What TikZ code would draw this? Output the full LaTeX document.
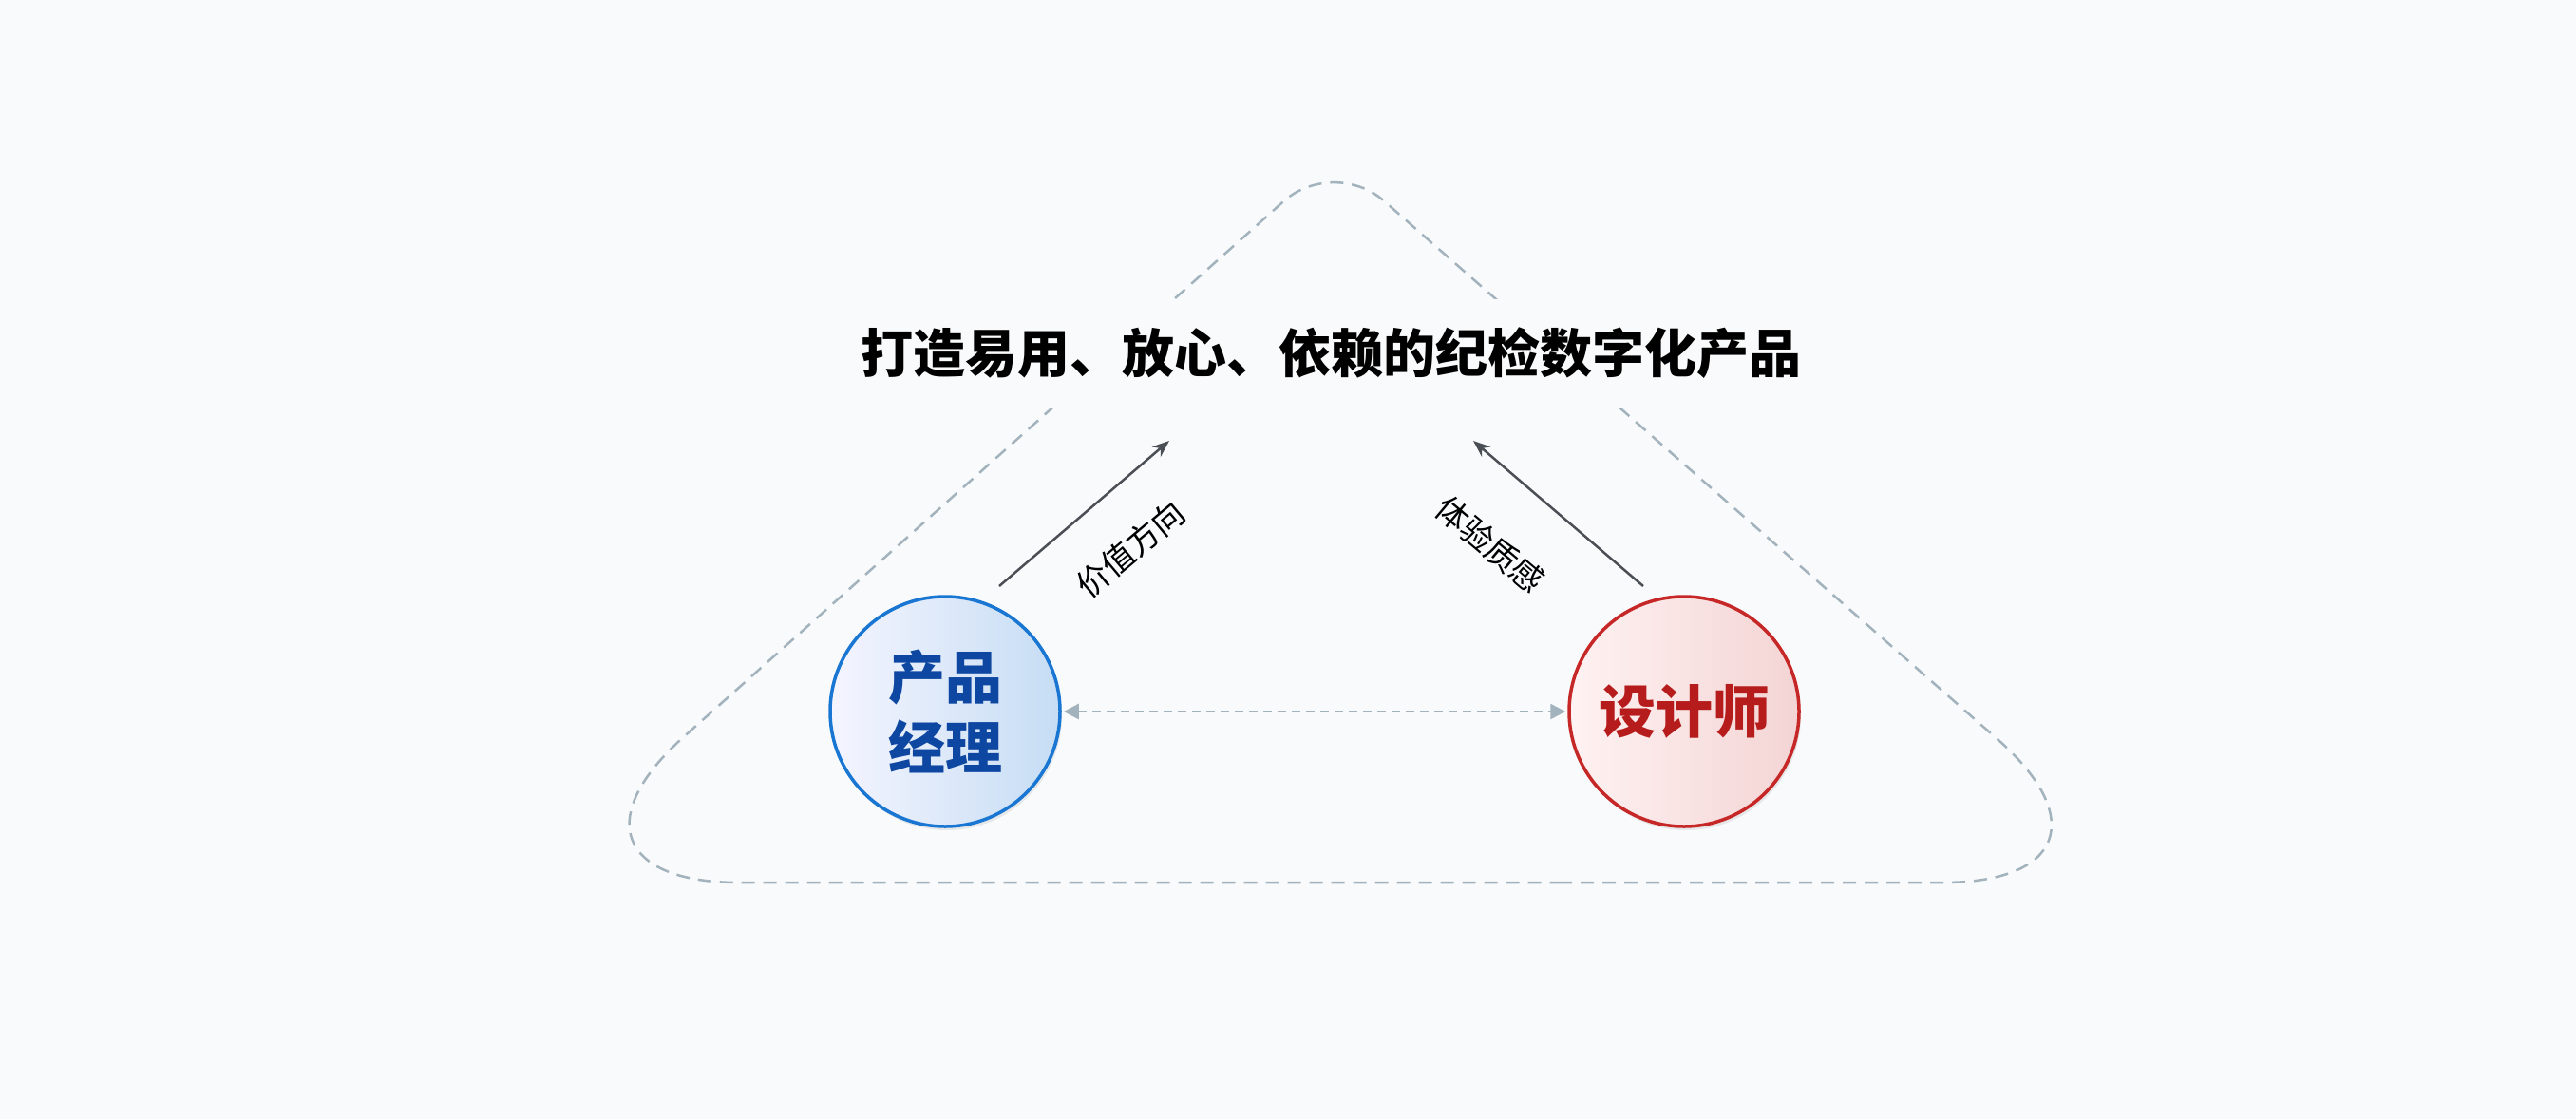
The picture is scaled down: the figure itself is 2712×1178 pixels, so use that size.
\documentclass[tikz,border=0pt]{standalone}
\usepackage{fontspec}
\setmainfont{Noto Sans CJK SC}
\usepackage{tikz}
\usetikzlibrary{arrows.meta,shadows}
\definecolor{bgcol}{HTML}{F9FAFB}
\definecolor{framecol}{HTML}{A2B3BE}
\definecolor{pmline}{HTML}{1976D2}
\definecolor{pmtext}{HTML}{0D47A1}
\definecolor{dsline}{HTML}{C62828}
\definecolor{dstext}{HTML}{B71C1C}
\definecolor{arrcol}{HTML}{4A4F55}
\begin{document}
\begin{tikzpicture}[
        x=1pt, y=-1pt,
        >={Stealth[length=18pt,width=14pt]},
        role/.style={circle, minimum size=242pt, line width=3.5pt, inner sep=0pt,
                     font=\fontsize{60}{76}\selectfont\bfseries, align=center,
                     drop shadow={shadow xshift=2pt, shadow yshift=-4pt, opacity=0.15}},
        flow/.style={->, draw=arrcol, line width=2.5pt},
        flowlabel/.style={font=\fontsize{34}{40}\selectfont, text=black}
    ]
    \fill[bgcol] (0,0) rectangle (2712,1178);
    \useasboundingbox (0,0) rectangle (2712,1178);

    % dashed rounded frame
    \draw[framecol, line width=2.5pt, dash pattern=on 14pt off 9pt]
        (1411,929) [rounded corners=230pt] -- (2275,929)
        [rounded corners=70pt] -- (1404,165)
        [rounded corners=230pt] -- (548,929) -- cycle;

    \node[fill=bgcol, inner xsep=60pt, inner ysep=30pt,
          font=\fontsize{55}{66}\selectfont\bfseries] (goal) at (1401,372)
          {打造易用、放心、依赖的纪检数字化产品};

    \node[role, draw=pmline, left color=blue!4, right color=pmline!25, text=pmtext]
        (pm) at (995,749) {产品\\[-2pt]经理};
    \node[role, draw=dsline, left color=red!5, right color=dsline!20, text=dstext]
        (ds) at (1773,749) {设计师};

    \coordinate (pmA) at (1052,617);
    \coordinate (pmB) at (1231,464);
    \coordinate (dsA) at (1730,617);
    \coordinate (dsB) at (1551,464);

    \draw[flow] (pmA) -- (pmB);
    \draw[flow] (dsA) -- (dsB);
    \node[flowlabel, rotate=40] (value) at (1190,578) {价值方向};
    \node[flowlabel, rotate=-40] (feel) at (1569,573) {体验质感};

    \draw[<->, >={Triangle[length=16pt,width=16pt]}, draw=framecol, line width=2.5pt,
          dash pattern=on 9pt off 6pt, shorten <=2pt, shorten >=2pt] (pm) -- (ds);
\end{tikzpicture}
\end{document}
